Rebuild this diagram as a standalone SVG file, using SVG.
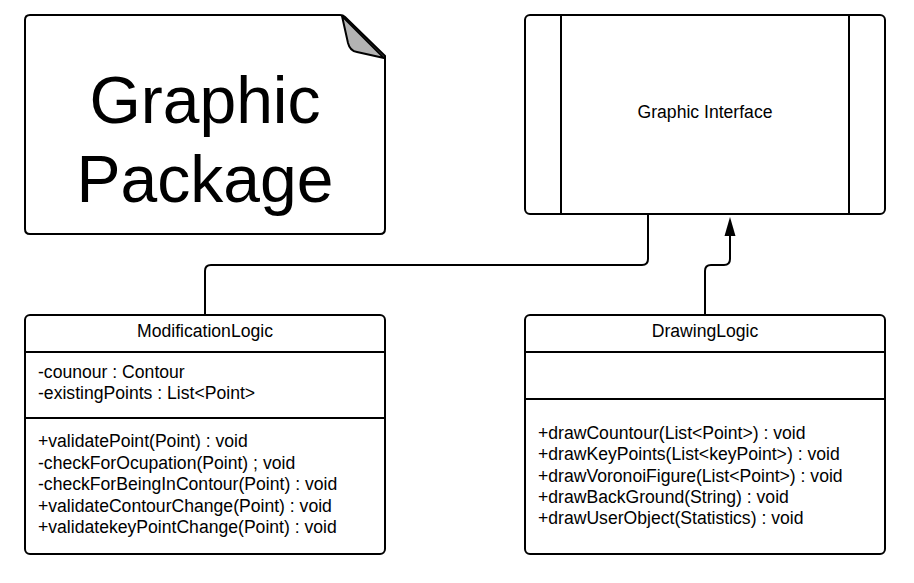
<svg xmlns="http://www.w3.org/2000/svg" width="914" height="583" viewBox="0 0 914 583">
<defs>
<style>
.box{fill:#fff;stroke:#000;stroke-width:2}
.ln{stroke:#000;stroke-width:2;fill:none}
.t{font-family:"Liberation Sans",Arial,sans-serif;font-size:17.6px;fill:#000}
.c{text-anchor:middle}
.big{font-family:"Liberation Sans",Arial,sans-serif;font-size:66px;fill:#000;text-anchor:middle}
</style>
</defs>
<rect width="914" height="583" fill="#fff"/>
<g id="connectors">
<path class="ln" d="M648,215 V259 Q648,265 642,265 H211 Q205,265 205,271 V315"/>
<path class="ln" d="M705,315 V271 Q705,265 711,265 H724 Q730,265 730,259 V236"/>
<path d="M724.5,236 L730,217 L735.5,236 Z" fill="#000"/>
</g>
<g id="graphic-package">
<path class="box" d="M30,15 H340 Q343,15 345,17 L385,56 V229 Q385,234 380,234 H30 Q25,234 25,229 V20 Q25,15 30,15 Z"/>
<path d="M342,16 L348,43 Q350,51 357,52 L384,58 Z" fill="#b3b3b3" stroke="#000" stroke-width="2" stroke-linejoin="round"/>
<text class="big" x="205" y="123">Graphic</text>
<text class="big" x="205" y="202">Package</text>
</g>
<g id="graphic-interface">
<rect class="box" x="525" y="15" width="360" height="199" rx="5"/>
<line class="ln" x1="561" y1="15" x2="561" y2="214"/>
<line class="ln" x1="849" y1="15" x2="849" y2="214"/>
<text class="t c" x="705" y="118">Graphic Interface</text>
</g>
<g id="modification-logic">
<rect class="box" x="25" y="315" width="360" height="239" rx="5"/>
<line class="ln" x1="25" y1="352" x2="385" y2="352"/>
<line class="ln" x1="25" y1="418" x2="385" y2="418"/>
<text class="t c" x="205" y="337">ModificationLogic</text>
<text class="t" x="38" y="378">-counour : Contour</text>
<text class="t" x="38" y="399">-existingPoints : List&lt;Point&gt;</text>
<text class="t" x="38" y="447">+validatePoint(Point) : void</text>
<text class="t" x="38" y="468.5">-checkForOcupation(Point) ; void</text>
<text class="t" x="38" y="490">-checkForBeingInContour(Point) : void</text>
<text class="t" x="38" y="511.5">+validateContourChange(Point) : void</text>
<text class="t" x="38" y="533">+validatekeyPointChange(Point) : void</text>
</g>
<g id="drawing-logic">
<rect class="box" x="525" y="315" width="360" height="239" rx="5"/>
<line class="ln" x1="525" y1="352" x2="885" y2="352"/>
<line class="ln" x1="525" y1="399" x2="885" y2="399"/>
<text class="t c" x="705" y="337">DrawingLogic</text>
<text class="t" x="538" y="439">+drawCountour(List&lt;Point&gt;) : void</text>
<text class="t" x="538" y="460">+drawKeyPoints(List&lt;keyPoint&gt;) : void</text>
<text class="t" x="538" y="481.5">+drawVoronoiFigure(List&lt;Point&gt;) : void</text>
<text class="t" x="538" y="503">+drawBackGround(String) : void</text>
<text class="t" x="538" y="524">+drawUserObject(Statistics) : void</text>
</g>
</svg>
